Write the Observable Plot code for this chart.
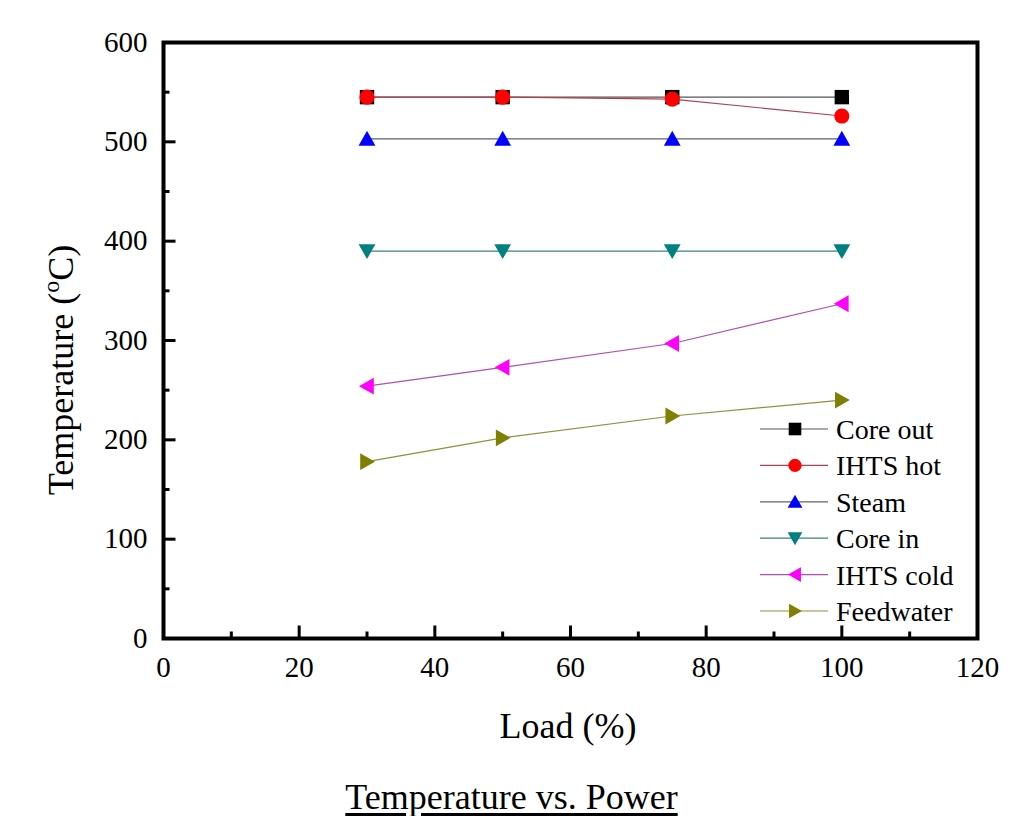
<!DOCTYPE html>
<html><head><meta charset="utf-8">
<script src="https://cdn.jsdelivr.net/npm/d3@7"></script>
<script src="https://cdn.jsdelivr.net/npm/@observablehq/plot@0.6"></script>
<style>
body{margin:0;background:#fff;font-family:"Liberation Serif","Times New Roman",serif;}
#wrap{position:relative;width:1023px;height:816px;overflow:hidden;}
#caption{position:absolute;left:0;width:1023px;top:779px;text-align:center;font-size:36px;line-height:36px;color:#000;}
#caption span{text-decoration:underline;text-underline-offset:4px;}
</style></head><body>
<div id="wrap"><div id="chart"></div><div id="caption"><span>Temperature vs. Power</span></div></div>
<script>
// ---- data ----
const loads = [30, 50, 75, 100];
const seriesNames = ["Core out", "IHTS hot", "Steam", "Core in", "IHTS cold", "Feedwater"];
const coreOut = [545, 545, 545, 545];
const ihtsHot = [545, 545, 543, 526];
const steam = [503, 503, 503, 503];
const coreIn = [390, 390, 390, 390];
const ihtsCold = [254, 273, 297, 337];
const feedwater = [178, 202, 224, 240];
const seriesColors = ["#000000", "#ff0000", "#0000ff", "#008080", "#ff00ff", "#808000"];
const lineColors = ["#555555", "#b04050", "#606070", "#408080", "#b050b0", "#909040"];
const xTicks = [0, 20, 40, 60, 80, 100, 120];
const xMinor = [10, 30, 50, 70, 90, 110];
const yTicks = [0, 100, 200, 300, 400, 500, 600];
const yMinor = [50, 150, 250, 350, 450, 550];
const xLabel = "Load (%)";

const seriesValues = [coreOut, ihtsHot, steam, coreIn, ihtsCold, feedwater];
const FONT = "'Liberation Serif','Times New Roman',serif";

// ---- custom symbols ----
function mk(kind) {
  return {draw(ctx, size) {
    const r = Math.sqrt(size / Math.PI);
    if (kind === "square") { const s = r * 0.9; ctx.rect(-s, -s, 2 * s, 2 * s); return; }
    if (kind === "circle") { const R = r * 0.95; ctx.moveTo(R, 0); ctx.arc(0, 0, R, 0, 2 * Math.PI); return; }
    const h = r, w = r * 1.05, b = r * 0.85;
    if (kind === "up") { ctx.moveTo(0, -h); ctx.lineTo(w, b); ctx.lineTo(-w, b); }
    if (kind === "down") { ctx.moveTo(0, h); ctx.lineTo(w, -b); ctx.lineTo(-w, -b); }
    if (kind === "left") { ctx.moveTo(-h, 0); ctx.lineTo(b, -w); ctx.lineTo(b, w); }
    if (kind === "right") { ctx.moveTo(h, 0); ctx.lineTo(-b, -w); ctx.lineTo(-b, w); }
    ctx.closePath();
  }};
}
const symbols = ["square", "circle", "up", "down", "left", "right"].map(mk);
const tickSym = (dx, dy, L) => ({draw(ctx) { ctx.moveTo(0, 0); ctx.lineTo(dx * L, dy * L); }});

const rows = seriesNames.map((name, i) => loads.map((x, j) => ({series: name, x, y: seriesValues[i][j]})));

const marks = [];
// inward ticks
marks.push(Plot.dot(xTicks.slice(1, -1), {x: d => d, y: () => 0, symbol: tickSym(0, -1, 13), stroke: "black", strokeWidth: 3, fill: "none"}));
marks.push(Plot.dot(xMinor, {x: d => d, y: () => 0, symbol: tickSym(0, -1, 7), stroke: "black", strokeWidth: 3, fill: "none"}));
marks.push(Plot.dot(yTicks.slice(1, -1), {x: () => 0, y: d => d, symbol: tickSym(1, 0, 12), stroke: "black", strokeWidth: 3, fill: "none"}));
marks.push(Plot.dot(yMinor, {x: () => 0, y: d => d, symbol: tickSym(1, 0, 6), stroke: "black", strokeWidth: 3, fill: "none"}));
// series
rows.forEach((data, i) => {
  marks.push(Plot.line(data, {x: "x", y: "y", stroke: lineColors[i], strokeWidth: 1.2}));
  marks.push(Plot.dot(data, {x: "x", y: "y", symbol: symbols[i], r: 8, fill: seriesColors[i], stroke: "none"}));
});
marks.push(Plot.axisX({ticks: xTicks, tickSize: 0, tickPadding: 18, fontSize: 29, fontFamily: FONT, label: null, anchor: "bottom"}));
marks.push(Plot.axisY({ticks: yTicks, tickSize: 0, tickPadding: 16, fontSize: 29, fontFamily: FONT, label: null, anchor: "left"}));
marks.push(Plot.frame({stroke: "black", strokeWidth: 4}));

const W = 1023, H = 750;
const plot = Plot.plot({
  width: W, height: H,
  marginLeft: 163, marginRight: 46, marginTop: 42, marginBottom: 112,
  x: {domain: [0, 120]},
  y: {domain: [0, 600]},
  style: {fontFamily: FONT, color: "black", background: "white"},
  marks
});
document.getElementById("chart").appendChild(plot);

const svg = d3.select(plot);
svg.attr("font-family", FONT);
svg.selectAll("text").attr("font-family", FONT);
// axis titles
svg.append("text").attr("x", 568).attr("y", 738).attr("text-anchor", "middle")
  .attr("font-size", 36).attr("font-family", FONT).attr("fill", "black").text(xLabel);
const yl = svg.append("text").attr("transform", "translate(73,370) rotate(-90)")
  .attr("text-anchor", "middle").attr("font-size", 36).attr("font-family", FONT).attr("fill", "black");
yl.append("tspan").text("Temperature (");
yl.append("tspan").attr("dy", -14).attr("font-size", 24).text("o");
yl.append("tspan").attr("dy", 14).text("C)");

// legend
const lg = svg.append("g").attr("font-size", 28).attr("font-family", FONT).attr("fill", "black").attr("text-anchor", "start");
seriesNames.forEach((name, i) => {
  const cy = 429 + i * 36.4;
  lg.append("line").attr("x1", 760).attr("x2", 828).attr("y1", cy).attr("y2", cy)
    .attr("stroke", lineColors[i]).attr("stroke-width", 1.2);
  lg.append("path").attr("transform", `translate(795,${cy})`)
    .attr("d", d3.symbol(symbols[i], Math.PI * 7 * 7)()).attr("fill", seriesColors[i]);
  lg.append("text").attr("x", 836).attr("y", cy + 10).attr("text-anchor", "start").text(name);
});
</script>
</body></html>
